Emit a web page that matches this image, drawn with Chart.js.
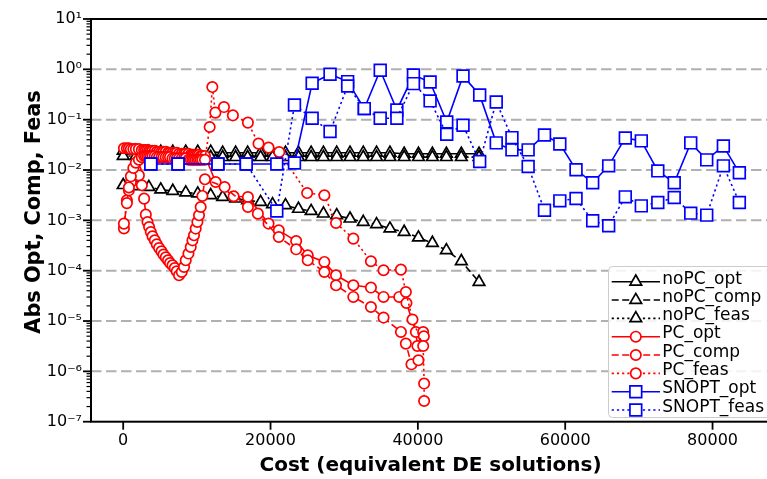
<!DOCTYPE html>
<html>
<head>
<meta charset="utf-8">
<script src="https://cdn.jsdelivr.net/npm/chart.js"></script>
<style>
  html, body { margin: 0; padding: 0; background: #fff; overflow: hidden; }
  #wrap { width: 780px; height: 479px; }
</style>
</head>
<body>
<div id="wrap"><canvas id="chart" width="780" height="479"></canvas></div>
<script>
// ---- data ----
const noPcCost = [0, 1720, 3480, 5100, 6730, 8490, 10120, 11880, 13500, 15260, 16890, 18650, 20270, 22030,
  23790, 25510, 27180, 28980, 30790, 32590, 34390, 36210, 38140, 40080, 41970, 43870, 45900, 48300];
const noPcOpt = [0.024, 0.024, 0.023, 0.023, 0.023, 0.023, 0.023, 0.023, 0.022, 0.022, 0.022, 0.022, 0.022, 0.022,
  0.022, 0.022, 0.022, 0.022, 0.022, 0.022, 0.022, 0.022, 0.021, 0.021, 0.021, 0.021, 0.021, 0.021];
const noPcComp = [0.0050, 0.00475, 0.00459, 0.00408, 0.00383, 0.00356, 0.0034, 0.00315, 0.00291, 0.0027, 0.0025,
  0.00231, 0.00208, 0.00199, 0.00169, 0.00153, 0.00136, 0.00126, 0.00108, 0.000927, 0.000835, 0.000686,
  0.000587, 0.000454, 0.000355, 0.000254, 0.000154, 0.0000597];
const noPcFeas = [0.019, 0.019, 0.019, 0.019, 0.018, 0.018, 0.018, 0.018, 0.018, 0.018, 0.018, 0.018, 0.018, 0.018,
  0.018, 0.018, 0.018, 0.018, 0.018, 0.018, 0.018, 0.018, 0.018, 0.018, 0.018, 0.018, 0.018, 0.018];

// PC: dense first phase shared by the three curves
const pcDenseCost = [100, 500, 770, 1040, 1380, 1720, 2130, 2530, 2840, 3070, 3300, 3520, 3750, 3980, 4290,
  4560, 4870, 5200, 5470, 5780, 6090, 6360, 6690, 7000, 7270, 7580, 7950, 8260, 8490, 8860, 9170, 9400,
  9610, 9840, 10070, 10290, 10520, 10750, 11100];
const pcOptCost = pcDenseCost.concat([12550, 14990, 16930, 19730, 21120, 23480, 25050, 27310, 28890, 31240,
  33630, 35340, 37470, 38450, 39730, 39940, 40720]);
const pcOpt = [0.027, 0.027, 0.027, 0.026, 0.026, 0.026, 0.026, 0.025, 0.025, 0.025, 0.025, 0.024, 0.024,
  0.024, 0.024, 0.023, 0.023, 0.023, 0.023, 0.023, 0.022, 0.022, 0.022, 0.022, 0.022, 0.021, 0.021, 0.021,
  0.021, 0.021, 0.020, 0.020, 0.020, 0.020, 0.020, 0.020, 0.019, 0.019, 0.019,
  0.00578, 0.00301, 0.00291, 0.000862, 0.000634, 0.000389, 0.000202, 0.000149, 0.000081, 0.0000513,
  0.0000462, 0.0000301, 0.0000301, 0.0000228, 0.00000605, 0.00000319, 0.00000605];
const pcCompCost = pcDenseCost.concat([13770, 16930, 18280, 21120, 23480, 25050, 27310, 28890, 31240, 33630,
  35340, 37700, 38370, 39130, 40080, 40810]);
const pcComp = [0.00069, 0.0025, 0.00395, 0.0057, 0.00785, 0.0099, 0.00785, 0.00497, 0.0027, 0.0013,
  0.000927, 0.000738, 0.000587, 0.000482, 0.000401, 0.000334, 0.000282, 0.000243, 0.000209, 0.000185,
  0.000161, 0.000142, 0.000128, 0.000113, 0.0000973, 0.000081, 0.0000942, 0.000119, 0.000161, 0.000219,
  0.000296, 0.000401, 0.000505, 0.000686, 0.000927, 0.00126, 0.00184, 0.00305, 0.00654,
  0.00459, 0.00184, 0.00136, 0.000467, 0.000266, 0.000161, 0.0000942, 0.0000513, 0.0000301, 0.000019,
  0.0000117, 0.00000606, 0.00000356, 0.00000138, 0.00000166, 0.00000498];
const pcFeasCost = pcDenseCost.concat([11740, 12100, 12510, 13680, 14890, 16930, 18370, 19730, 21180, 24970,
  27310, 28890, 31240, 33630, 35340, 37700, 38370, 39270, 40720, 40850, 40850]);
const pcFeas = [0.00086, 0.0022, 0.0045, 0.0075, 0.011, 0.014, 0.016, 0.018, 0.019, 0.019, 0.019, 0.019,
  0.019, 0.019, 0.019, 0.018, 0.018, 0.018, 0.018, 0.018, 0.018, 0.018, 0.017, 0.017, 0.017, 0.017, 0.017,
  0.017, 0.017, 0.016, 0.016, 0.016, 0.016, 0.016, 0.016, 0.016, 0.016, 0.016, 0.016,
  0.0715, 0.445, 0.138, 0.178, 0.122, 0.0874, 0.0334, 0.0279, 0.0228, 0.00349, 0.00315, 0.000886, 0.000434,
  0.000154, 0.000102, 0.000105, 0.0000377, 0.0000107, 0.00000319, 0.000000572, 0.000000258];

const snoptCost = [3750, 7450, 12860, 16700, 20850, 23250, 25650, 28080, 30470, 32730, 34890, 37150, 39400,
  41660, 43920, 46130, 48390, 50640, 52770, 54970, 57190, 59270, 61470, 63730, 65900, 68160, 70330, 72570,
  74800, 77040, 79210, 81470, 83640];
const snoptOpt = [0.0132, 0.0132, 0.0132, 0.0132, 0.0132, 0.0138, 0.53, 0.80, 0.57, 0.166, 0.96, 0.156, 0.77,
  0.56, 0.090, 0.74, 0.31, 0.0346, 0.0251, 0.0251, 0.0498, 0.033, 0.0101, 0.0056, 0.0121, 0.0434, 0.0379,
  0.0096, 0.0056, 0.0346, 0.0159, 0.0301, 0.0088];
const snoptFeas = [0.0132, 0.0132, 0.0132, 0.0132, 0.00154, 0.196, 0.107, 0.058, 0.468, 0.166, 0.107, 0.107,
  0.52, 0.236, 0.0514, 0.0776, 0.0147, 0.225, 0.044, 0.0117, 0.00159, 0.00244, 0.00271, 0.00098, 0.00078,
  0.00293, 0.00194, 0.00226, 0.00284, 0.00139, 0.00127, 0.0121, 0.00226];

const xTicks = [0, 20000, 40000, 60000, 80000];
const yTicks = [1e-7, 1e-6, 1e-5, 1e-4, 1e-3, 1e-2, 1e-1, 1e0, 1e1];
const gridDecades = [1e-6, 1e-5, 1e-4, 1e-3, 1e-2, 1e-1, 1e0];

// ---- styling ----
Chart.defaults.font.family = "'DejaVu Sans', sans-serif";
Chart.defaults.color = '#000';

const SOLID = [], DASHED = [7, 3.5], DOTTED = [2.2, 3];
const MARKER_R = { triangle: 6.7, circle: 5.2, rect: 8.3 };
const LW = 1.6;

const series = [
  { label: 'noPC_opt', cost: noPcCost, vals: noPcOpt, color: '#000000', dash: SOLID, marker: 'triangle' },
  { label: 'noPC_comp', cost: noPcCost, vals: noPcComp, color: '#000000', dash: DASHED, marker: 'triangle' },
  { label: 'noPC_feas', cost: noPcCost, vals: noPcFeas, color: '#000000', dash: DOTTED, marker: 'triangle' },
  { label: 'PC_opt', cost: pcOptCost, vals: pcOpt, color: '#ff0000', dash: SOLID, marker: 'circle' },
  { label: 'PC_comp', cost: pcCompCost, vals: pcComp, color: '#ff0000', dash: DASHED, marker: 'circle' },
  { label: 'PC_feas', cost: pcFeasCost, vals: pcFeas, color: '#ff0000', dash: DOTTED, marker: 'circle' },
  { label: 'SNOPT_opt', cost: snoptCost, vals: snoptOpt, color: '#0000ff', dash: SOLID, marker: 'rect' },
  { label: 'SNOPT_feas', cost: snoptCost, vals: snoptFeas, color: '#0000ff', dash: DOTTED, marker: 'rect' }
];

const SUP = { '-': '\u207B', '0': '\u2070', '1': '\u00B9', '2': '\u00B2', '3': '\u00B3', '4': '\u2074',
  '5': '\u2075', '6': '\u2076', '7': '\u2077', '8': '\u2078', '9': '\u2079' };
const toSup = s => s.split('').map(c => SUP[c]).join('');

const datasets = series.map((s, i) => ({
  label: s.label,
  data: s.cost.map((c, k) => ({ x: c, y: s.vals[k] })),
  borderColor: s.color,
  borderWidth: LW,
  borderDash: s.dash,
  backgroundColor: '#ffffff',
  pointStyle: s.marker,
  pointRadius: MARKER_R[s.marker],
  pointBorderWidth: 1.7,
  pointBorderColor: s.color,
  pointBackgroundColor: '#ffffff',
  tension: 0,
  fill: false,
  order: series.length - i   // later series drawn on top, like the original
}));

function drawMarker(ctx, style, r, x, y) {
  ctx.beginPath();
  if (style === 'circle') {
    ctx.arc(x, y, r, 0, Math.PI * 2);
  } else if (style === 'triangle') {
    ctx.moveTo(x, y - r);
    ctx.lineTo(x + 0.866 * r, y + r / 2);
    ctx.lineTo(x - 0.866 * r, y + r / 2);
    ctx.closePath();
  } else {
    const h = r * Math.SQRT1_2;
    ctx.rect(x - h, y - h, 2 * h, 2 * h);
  }
  ctx.fill();
  ctx.stroke();
}

// grid, spines, tick marks, y title and the in-axes legend
const framePlugin = {
  id: 'frame',
  beforeDatasetsDraw(chart) {
    const { ctx, chartArea: a, scales: { y } } = chart;
    ctx.save();
    ctx.strokeStyle = '#b0b0b0';
    ctx.lineWidth = 2;
    ctx.setLineDash([10.5, 4.5]);
    gridDecades.forEach(v => {
      const py = y.getPixelForValue(v);
      ctx.beginPath(); ctx.moveTo(a.left, py); ctx.lineTo(a.right, py); ctx.stroke();
    });
    ctx.restore();
  },
  afterDatasetsDraw(chart) {
    const { ctx, chartArea: a, scales: { x, y } } = chart;
    ctx.save();
    ctx.strokeStyle = '#000';
    ctx.setLineDash([]);

    // tick marks
    ctx.lineWidth = 1.8;
    yTicks.forEach(v => {
      const py = y.getPixelForValue(v);
      ctx.beginPath(); ctx.moveTo(a.left - 8, py); ctx.lineTo(a.left, py); ctx.stroke();
    });
    ctx.lineWidth = 1.2;
    for (let e = -7; e < 1; e++) {
      for (let m = 2; m <= 9; m++) {
        const py = y.getPixelForValue(m * Math.pow(10, e));
        ctx.beginPath(); ctx.moveTo(a.left - 4.5, py); ctx.lineTo(a.left, py); ctx.stroke();
      }
    }
    ctx.lineWidth = 1.8;
    xTicks.forEach(v => {
      const px = x.getPixelForValue(v);
      ctx.beginPath(); ctx.moveTo(px, a.bottom); ctx.lineTo(px, a.bottom + 8); ctx.stroke();
    });

    // spines
    ctx.lineWidth = 2;
    ctx.strokeRect(a.left, a.top, a.right - a.left, a.bottom - a.top);

    // y axis title (placed like the original, a little above the axis centre)
    ctx.save();
    ctx.translate(40, 212);
    ctx.rotate(-Math.PI / 2);
    ctx.font = "bold 20.8px 'DejaVu Sans'";
    ctx.textAlign = 'center';
    ctx.textBaseline = 'alphabetic';
    ctx.fillStyle = '#000';
    ctx.fillText('Abs Opt, Comp, Feas', 0, 0);
    ctx.restore();

    // legend
    const lx = 608.5, ly = 266.5, lw = 172, lh = 151;
    ctx.fillStyle = 'rgba(255,255,255,0.85)';
    ctx.strokeStyle = '#cccccc';
    ctx.lineWidth = 1;
    ctx.beginPath();
    ctx.roundRect(lx, ly, lw, lh, 4);
    ctx.fill(); ctx.stroke();

    ctx.font = "17px 'DejaVu Sans'";
    ctx.textBaseline = 'alphabetic';
    ctx.textAlign = 'left';
    series.forEach((s, i) => {
      const ry = 281.7 + 18.33 * i;
      ctx.strokeStyle = s.color;
      ctx.lineWidth = LW;
      ctx.setLineDash(s.dash);
      ctx.beginPath(); ctx.moveTo(611.7, ry); ctx.lineTo(660, ry); ctx.stroke();
      ctx.setLineDash([]);
      ctx.lineWidth = 1.7;
      ctx.fillStyle = '#ffffff';
      drawMarker(ctx, s.marker, MARKER_R[s.marker], 635.8, ry);
      ctx.fillStyle = '#000';
      ctx.fillText(s.label, 662.3, ry + 1.8);
    });
    ctx.restore();
  }
};

new Chart(document.getElementById('chart'), {
  type: 'line',
  data: { datasets },
  options: {
    responsive: false,
    animation: false,
    devicePixelRatio: 1,
    layout: { padding: { top: 19, right: 8, left: 0, bottom: 0 } },
    plugins: { legend: { display: false }, tooltip: { enabled: false } },
    scales: {
      x: {
        type: 'linear',
        min: -4370,
        max: 87800,
        afterBuildTicks: s => { s.ticks = xTicks.map(v => ({ value: v })); },
        afterFit: s => { s.height = 57.3; },
        ticks: { autoSkip: false, maxRotation: 0, padding: 2, color: '#000', font: { size: 16 },
                 callback: v => String(v) },
        grid: { display: true, drawOnChartArea: false, drawTicks: true, tickLength: 8, color: 'rgba(0,0,0,0)' },
        border: { display: false },
        title: { display: true, text: 'Cost (equivalent DE solutions)', color: '#000',
                 font: { size: 20, weight: 'bold' }, padding: { top: 0, bottom: 1 } }
      },
      y: {
        type: 'logarithmic',
        min: 1e-7,
        max: 10,
        afterBuildTicks: s => { s.ticks = yTicks.map(v => ({ value: v })); },
        afterFit: s => { s.width = 91; },
        ticks: { autoSkip: false, padding: 1, color: '#000', font: { size: 16 },
                 callback: v => '10' + toSup(String(Math.round(Math.log10(v)))) },
        grid: { display: true, drawOnChartArea: false, drawTicks: true, tickLength: 8, color: 'rgba(0,0,0,0)' },
        border: { display: false },
        title: { display: false }
      }
    }
  },
  plugins: [framePlugin]
});
</script>
</body>
</html>
